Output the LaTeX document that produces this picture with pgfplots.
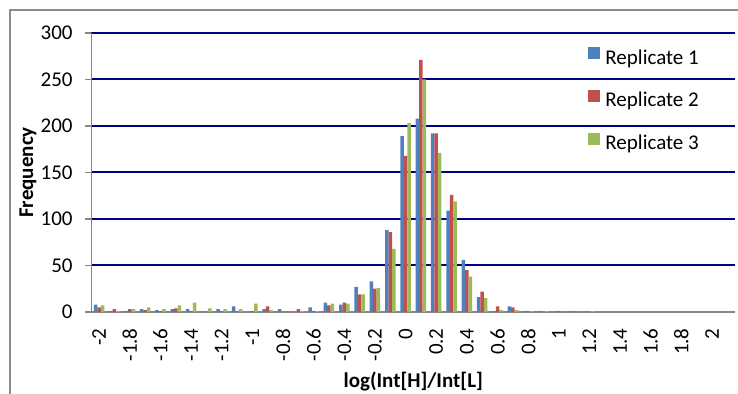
\documentclass[border=0pt]{standalone}
\usepackage{fontspec}
\setmainfont{Carlito}
\usepackage{pgfplots}
\usepackage{pgfplotstable}
\pgfplotsset{compat=1.18}
\definecolor{rone}{HTML}{4F81BD}
\definecolor{rtwo}{HTML}{C0504D}
\definecolor{rthree}{HTML}{9BBB59}
\definecolor{gridnavy}{HTML}{000080}
\definecolor{axgray}{HTML}{868686}
\definecolor{framegray}{HTML}{8C8C8C}
\newcommand{\chartfont}{\fontsize{10.5pt}{12pt}\selectfont}

\pgfplotstableread{
x r1 r2 r3
0 8 5 7
1 1 3 1
2 1 3 3
3 3 2 5
4 2 1 3
5 3 4 7
6 3 1 10
7 0 0 4
8 3 1 3
9 6 1 3
10 0 1 9
11 3 6 2
12 3 0 0
13 0 3 1
14 5 1 1
15 10 7 9
16 8 10 9
17 27 19 19
18 33 25 26
19 88 86 68
20 189 168 203
21 208 271 250
22 192 192 171
23 109 126 119
24 56 45 38
25 16 22 15
26 1 6 2
27 6 5 2
28 1 1 1
29 1 0 1
30 0 1 0
31 1 0 0
32 0 0 1
33 0 0 0
34 0 0 0
35 0 0 0
36 0 0 0
37 0 0 0
38 0 0 0
39 0 0 0
40 0 0 0
41 0 0 0
}\histdata

\begin{document}
\begin{tikzpicture}
\useasboundingbox (-45.75pt,-41pt) rectangle (323.25pt,156pt);
\draw[framegray, line width=0.6pt] (-40.75pt,-80pt) rectangle (360pt,151pt);
\begin{axis}[
  at={(0pt,0pt)}, anchor=south west,
  scale only axis, width=321.75pt, height=139.5pt,
  xmin=-0.5, xmax=41.5, ymin=0, ymax=300,
  ybar=0pt, bar width=1.75pt,
  legend image code/.code={\fill[#1] (0pt,0pt) rectangle (6pt,6pt);},
  axis x line*=bottom, axis y line*=left,
  axis line style={axgray, line width=0.75pt},
  ytick={0,50,...,300},
  ymajorgrids, grid style={gridnavy, line width=1pt},
  xtick={0,2,...,40},
  xticklabels={-2,-1.8,-1.6,-1.4,-1.2,-1,-0.8,-0.6,-0.4,-0.2,0,0.2,0.4,0.6,0.8,1,1.2,1.4,1.6,1.8,2},
  x tick style={draw=none},
  y tick style={axgray, line width=0.75pt},
  tick align=outside, major tick length=3pt,
  /pgf/number format/assume math mode=true,
  xticklabel style={rotate=90, anchor=east, inner sep=0pt, font=\chartfont},
  xticklabel shift=5pt,
  yticklabel style={inner sep=0pt, font=\chartfont},
  yticklabel shift=6.25pt,
  xlabel={log(Int[H]/Int[L]},
  xlabel style={at={(axis description cs:0.5,0)}, anchor=center, yshift=-34.5pt, font=\bfseries\chartfont},
  ylabel={Frequency},
  ylabel style={at={(axis description cs:-0.0987,0.5)}, anchor=center, font=\bfseries\chartfont},
  legend cell align=left,
  legend style={at={(0.7716,0.950)}, anchor=north west, draw=none, fill=none,
    inner sep=0pt, row sep=10.35pt, column sep=2.5pt, font=\chartfont,
    nodes={inner sep=0pt, text height=7.3pt, text depth=2.6pt}},
]
\addplot[fill=rone, draw=none] table[x=x, y=r1] {\histdata};
\addplot[fill=rtwo, draw=none] table[x=x, y=r2] {\histdata};
\addplot[fill=rthree, draw=none] table[x=x, y=r3] {\histdata};
\legend{Replicate 1, Replicate 2, Replicate 3}
\end{axis}
\end{tikzpicture}
\end{document}
